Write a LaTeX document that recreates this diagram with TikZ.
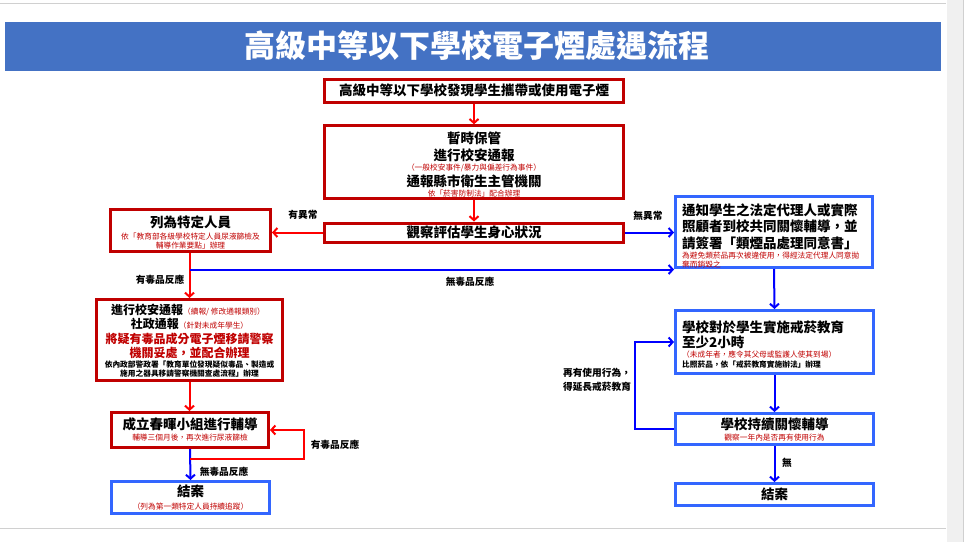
\documentclass[tikz,border=0pt]{standalone}
\usepackage{fontspec}
\newfontfamily\cjk{Noto Sans CJK TC}
\usetikzlibrary{arrows.meta}
\definecolor{boxred}{HTML}{C00000}
\definecolor{txtred}{HTML}{C00000}
\definecolor{arrred}{HTML}{FF0000}
\definecolor{boxblue}{HTML}{3366FF}
\definecolor{arrblue}{HTML}{0000FF}
\definecolor{titlebar}{HTML}{4472C4}
\definecolor{panelgray}{HTML}{F0F0F0}
\definecolor{rulegray}{HTML}{D0D0D0}
\begin{document}
\begin{tikzpicture}[x=1pt,y=-1pt,
  redbox/.style={draw=boxred,line width=3pt,inner sep=0pt},
  bluebox/.style={draw=boxblue,line width=3pt,inner sep=0pt},
  big/.style={font=\cjk\bfseries\fontsize{13.5}{15}\selectfont,inner sep=0pt,text=black},
  mid/.style={font=\cjk\bfseries\fontsize{12}{14}\selectfont,inner sep=0pt},
  sm/.style={font=\cjk\fontsize{7.7}{9}\selectfont,inner sep=0pt},
  smb/.style={font=\cjk\bfseries\fontsize{7.7}{9}\selectfont,inner sep=0pt,text=black},
  red/.style={text=txtred},
  lbl/.style={font=\cjk\bfseries\fontsize{9.7}{13}\selectfont,inner sep=0pt,text=black},
  rarr/.style={draw=arrred,line width=2pt,-{Straight Barb[length=4pt,width=9pt,line width=2pt]}},
  barr/.style={draw=arrblue,line width=2pt,-{Straight Barb[length=4pt,width=9pt,line width=2pt]}},
]
\useasboundingbox (0,0) rectangle (964,542);
\fill[white] (0,0) rectangle (964,542);
\fill[panelgray] (947,0) rectangle (964,542);
\draw[rulegray,line width=1pt] (963,0) -- (963,542);
\draw[rulegray,line width=1pt] (0,3.5) -- (946,3.5);
\draw[rulegray,line width=1pt] (0,528) -- (946,528);

% title
\node[fill=titlebar,minimum width=936pt,minimum height=49pt,inner sep=0pt] (title) at (473,46) {};
\node[font=\cjk\bfseries\fontsize{31}{34}\selectfont,text=white,inner sep=0pt] (titlet) at (477,46) {高級中等以下學校電子煙處遇流程};

% center column
\node[redbox,minimum width=299pt,minimum height=23pt,big] (top) at (474,90.5) {高級中等以下學校發現學生攜帶或使用電子煙};
\node[redbox,minimum width=299pt,minimum height=73pt] (b2) at (474,162.3) {};
\node[big] (b2a) at (474,138) {暫時保管};
\node[big] (b2b) at (474,155) {進行校安通報};
\node[sm,red] (b2c) at (474,167.5) {（一般校安事件/暴力與偏差行為事件）};
\node[big] (b2d) at (474,181) {通報縣市衛生主管機關};
\node[sm,red] (b2e) at (474,193.5) {依「菸害防制法」配合辦理};
\node[redbox,minimum width=299pt,minimum height=19pt,big] (b3) at (474,232.5) {觀察評估學生身心狀況};

% left column
\node[redbox,minimum width=160pt,minimum height=42pt] (spec) at (190.5,230.5) {};
\node[big] (speca) at (190.5,222.5) {列為特定人員};
\node[sm,red] (specb) at (190.5,237) {依「教育部各級學校特定人員尿液篩檢及};
\node[sm,red] (specc) at (190.5,246) {輔導作業要點」辦理};

\node[redbox,minimum width=186pt,minimum height=81pt] (rep) at (189.5,340) {};
\node[inner sep=0pt] (repa) at (188,310) {\cjk\bfseries\fontsize{12}{14}\selectfont 進行校安通報\color{txtred}\mdseries\fontsize{7.7}{9}\selectfont（續報/ 修改通報類別）};
\node[inner sep=0pt] (repb) at (189.5,323.5) {\cjk\bfseries\fontsize{12}{14}\selectfont 社政通報\color{txtred}\mdseries\fontsize{7.7}{9}\selectfont（針對未成年學生）};
\node[mid,red] (repc) at (189.5,339) {將疑有毒品成分電子煙移請警察};
\node[mid,red] (repd) at (189.5,353) {機關妥處，並配合辦理};
\node[smb] (repe) at (189.5,364.5) {依內政部警政署「教育單位發現疑似毒品、製造或};
\node[smb] (repf) at (189.5,373.5) {施用之器具移請警察機關查處流程」辦理};

\node[redbox,minimum width=157pt,minimum height=35pt] (chun) at (190,430) {};
\node[big] (chuna) at (190,424.5) {成立春暉小組進行輔導};
\node[sm,red] (chunb) at (190,437.5) {輔導三個月後，再次進行尿液篩檢};

\node[bluebox,minimum width=158pt,minimum height=32pt] (endl) at (190.5,497.5) {};
\node[big] (endla) at (190.5,491) {結案};
\node[sm,red] (endlb) at (190.5,507) {（列為第一類特定人員持續追蹤）};

% right column
\node[bluebox,minimum width=197pt,minimum height=71pt] (r1) at (774,232) {};
\node[big,anchor=west] (r1a) at (682,210) {通知學生之法定代理人或實際};
\node[big,anchor=west] (r1b) at (682,226) {照顧者到校共同關懷輔導，並};
\node[big,anchor=west] (r1c) at (682,243) {請簽署「類煙品處理同意書」};
\node[sm,red,anchor=west] (r1d) at (682,256) {為避免類菸品再次被違使用，得經法定代理人同意拋};
\node[sm,red,anchor=west] (r1e) at (682,264.5) {棄而銷毀之};

\node[bluebox,minimum width=198pt,minimum height=63pt] (r2) at (774.5,342) {};
\node[big,anchor=west] (r2a) at (682,327) {學校對於學生實施戒菸教育};
\node[big,anchor=west] (r2b) at (682,342) {至少2小時};
\node[sm,red,anchor=west] (r2c) at (682,354.5) {（未成年者，應令其父母或監護人使其到場）};
\node[smb,anchor=west] (r2d) at (682,364.5) {比照菸品，依「戒菸教育實施辦法」辦理};

\node[bluebox,minimum width=198pt,minimum height=31pt] (r3) at (774.5,429) {};
\node[big] (r3a) at (774.5,424.5) {學校持續關懷輔導};
\node[sm,red] (r3b) at (774.5,437.5) {觀察一年內是否再有使用行為};

\node[bluebox,minimum width=198pt,minimum height=22pt,big] (r4) at (774.5,494.5) {結案};

% connectors
\draw[rarr] (top.south) -- (b2.north);
\draw[rarr] (b2.south) -- (b3.north);
\draw[rarr] (b3.west) -- (b3.west -| spec.east);
\draw[barr] (b3.east) -- (b3.east -| r1.west);
\draw[rarr] (spec.south -| rep.north) -- (rep.north);
\coordinate (j1) at (189.5,269.5);
\draw[barr] (j1) -- (j1 -| r1.west);
\draw[barr] (r1.south) -- (r2.north);
\draw[rarr] (rep.south) -- (rep.south |- chun.north);
\draw[barr] (chun.south) -- (endl.north);
\coordinate (lp) at (190,459);
\coordinate (lp2) at (304,459);
\draw[rarr] (lp) -- (lp2) |- (chun.east);
\draw[barr] (r2.south) -- (r3.north);
\draw[barr] (r3.west) -- ++(-39,0) coordinate (rl) |- (r2.west);
\draw[barr] (r3.south) -- (r4.north);

% labels
\node[lbl] (l1) at (303,215) {有異常};
\node[lbl] (l2) at (648,216) {無異常};
\node[lbl] (l3) at (160,280) {有毒品反應};
\node[lbl] (l4) at (470,282) {無毒品反應};
\node[lbl] (l5) at (335,445) {有毒品反應};
\node[lbl] (l6) at (224,472) {無毒品反應};
\node[lbl,align=left,font=\cjk\bfseries\fontsize{9.7}{14}\selectfont] (l7) at (597,380) {再有使用行為，\\得延長戒菸教育};
\node[lbl] (l8) at (787,463) {無};
\end{tikzpicture}
\end{document}
